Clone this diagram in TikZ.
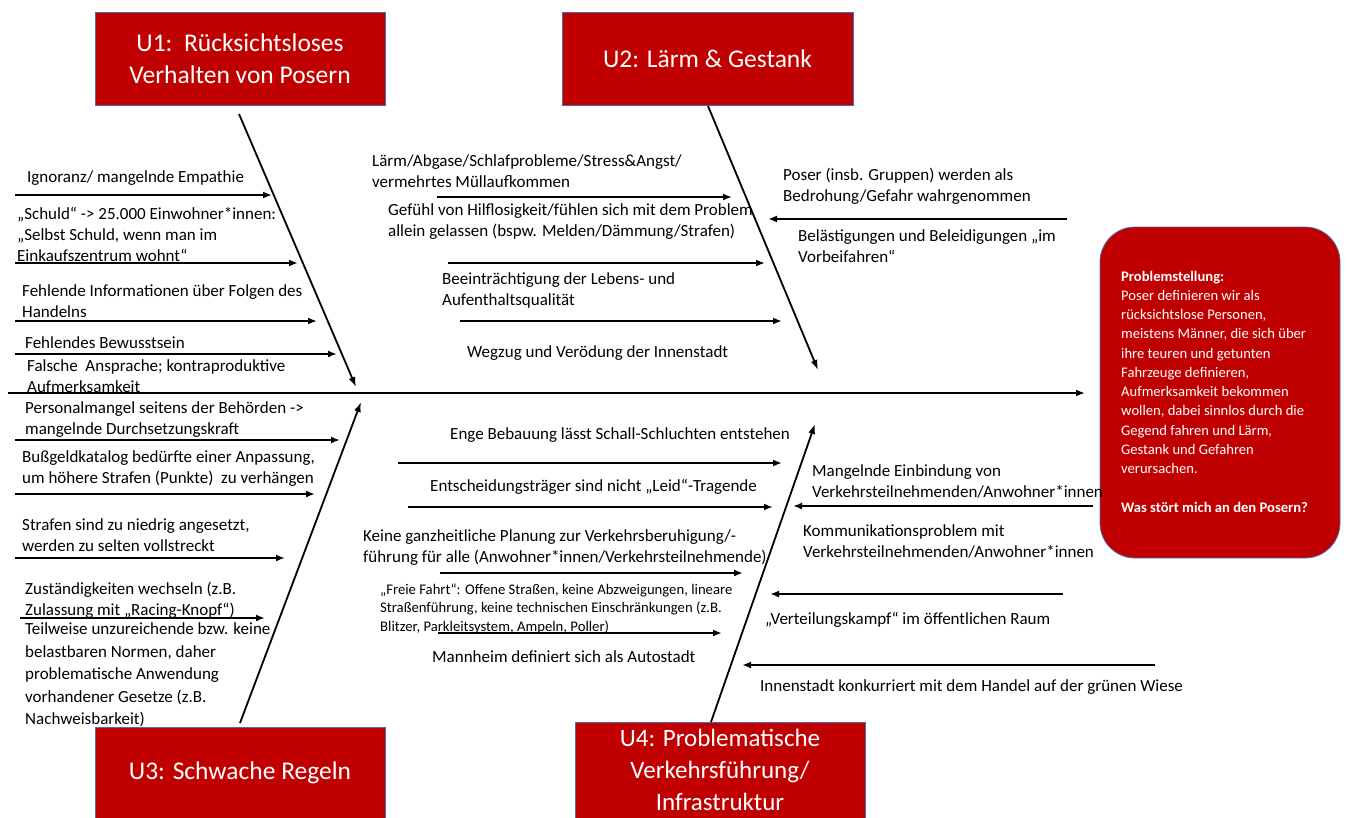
\documentclass[tikz,border=0pt]{standalone}
\usepackage{fontspec}
\setmainfont{Carlito}
\usetikzlibrary{arrows.meta}
\definecolor{boxred}{HTML}{C00000}
\definecolor{boxedge}{HTML}{4A6FA5}
\tikzset{
  arr/.style={line width=2pt,-{Latex[length=9pt,width=7pt]}},
  bone/.style={line width=1.8pt,-{Latex[length=10pt,width=7pt]}},
  txt/.style={anchor=west,align=left,inner sep=0pt,font=\fontsize{17}{21}\selectfont},
  smalltxt/.style={txt,font=\fontsize{14.7}{18.5}\selectfont},
  cause/.style={fill=boxred,draw=boxedge,line width=0.8pt,text=white,align=center,inner sep=0pt,font=\fontsize{25.5}{32}\selectfont},
  probbox/.style={fill=boxred,draw=boxedge,line width=0.8pt,rounded corners=35pt},
}
\newcommand\harrow[4]{\coordinate (#1a) at (#2,#4); \coordinate (#1b) at (#3,#4); \draw[arr] (#1a) -- (#1b);}
\begin{document}
\begin{tikzpicture}[x=1pt,y=-1pt]
\useasboundingbox (0,0) rectangle (1347,817);
% cause boxes
\node[cause,minimum width=290pt,minimum height=93pt] (u1) at (240,58.5) {U1:\ \ Rücksichtsloses\\Verhalten von Posern};
\node[cause,minimum width=291pt,minimum height=93pt] (u2) at (707.5,58.5) {U2: Lärm \& Gestank};
\node[cause,minimum width=290pt,minimum height=100pt] (u3) at (240,777) {};
\node[text=white,font=\fontsize{25.5}{32}\selectfont,inner sep=0pt] (u3t) at (240,773) {U3: Schwache Regeln};
\node[cause,minimum width=290pt,minimum height=105pt] (u4) at (720,774.5) {};
\node[text=white,align=center,font=\fontsize{25}{32}\selectfont,inner sep=0pt] (u4t) at (720,769.5) {U4: Problematische\\Verkehrsführung/\\Infrastruktur};
% problem box
\draw[probbox] (1100,227) rectangle (1340,558);
\node[anchor=west,align=left,inner sep=0pt,text=white,font=\fontsize{14.6}{19.25}\selectfont] (prob) at (1121,391.5)
{\textbf{Problemstellung:}\\Poser definieren wir als\\rücksichtslose Personen,\\meistens Männer, die sich über\\ihre teuren und getunten\\Fahrzeuge definieren,\\Aufmerksamkeit bekommen\\wollen, dabei sinnlos durch die\\Gegend fahren und Lärm,\\Gestank und Gefahren\\verursachen.\\[19.25pt]\textbf{Was stört mich an den Posern?}};
% spine
\coordinate (spineA) at (8,393);
\coordinate (spineB) at (1085,393);
\draw[arr] (spineA) -- (spineB);
% bones
\coordinate (b1a) at (239,114); \coordinate (b1b) at (356,387);
\coordinate (b2a) at (708,106); \coordinate (b2b) at (818,370);
\coordinate (b3a) at (240,723); \coordinate (b3b) at (361,402);
\coordinate (b4a) at (711,722); \coordinate (b4b) at (815,424);
\draw[bone] (b1a) -- (b1b);
\draw[bone] (b2a) -- (b2b);
\draw[bone] (b3a) -- (b3b);
\draw[bone] (b4a) -- (b4b);
% U1 causes
\node[txt] (t11) at (27,178) {Ignoranz/ mangelnde Empathie};
\harrow{a11}{15}{272}{195}
\node[txt] (t12) at (17,234) {„Schuld“ -> 25.000 Einwohner*innen:\\„Selbst Schuld, wenn man im\\Einkaufszentrum wohnt“};
\harrow{a12}{15}{298}{263}
\node[txt] (t13) at (22,301) {Fehlende Informationen über Folgen des\\Handelns};
\harrow{a13}{15}{317}{321}
\node[txt] (t14) at (25,343) {Fehlendes Bewusstsein};
\harrow{a14}{15}{337}{354}
\node[txt] (t15) at (27,376) {Falsche\ \ Ansprache; kontraproduktive\\Aufmerksamkeit};
% U3 causes
\node[txt] (t31) at (25,419.5) {Personalmangel seitens der Behörden ->\\mangelnde Durchsetzungskraft};
\harrow{a31}{15}{340}{440}
\node[txt] (t32) at (22,468.5) {Bußgeldkatalog bedürfte einer Anpassung,\\um höhere Strafen (Punkte)\ \ zu verhängen};
\harrow{a32}{15}{315}{494}
\node[txt] (t33) at (22,535) {Strafen sind zu niedrig angesetzt,\\werden zu selten vollstreckt};
\harrow{a33}{15}{285}{558}
\node[txt] (t34) at (25,600) {Zuständigkeiten wechseln (z.B.\\Zulassung mit „Racing-Knopf“)};
\harrow{a34}{20}{265}{618}
\node[txt,font=\fontsize{17}{22.5}\selectfont] (t35) at (25,675) {Teilweise unzureichende bzw. keine\\belastbaren Normen, daher\\problematische Anwendung\\vorhandener Gesetze (z.B.\\Nachweisbarkeit)};
% U2 causes (left)
\node[txt] (t21) at (372,171) {Lärm/Abgase/Schlafprobleme/Stress\&Angst/\\vermehrtes Müllaufkommen};
\harrow{a21}{437}{732}{197}
\node[txt] (t22) at (388,221.5) {Gefühl von Hilflosigkeit/fühlen sich mit dem Problem\\allein gelassen (bspw. Melden/Dämmung/Strafen)};
\harrow{a22}{448}{765}{263}
\node[txt] (t23) at (442,290) {Beeinträchtigung der Lebens- und\\Aufenthaltsqualität};
\harrow{a23}{460}{782}{321}
\node[txt] (t24) at (467,353) {Wegzug und Verödung der Innenstadt};
% U2 causes (right)
\node[txt] (t25) at (783,186) {Poser (insb. Gruppen) werden als\\Bedrohung/Gefahr wahrgenommen};
\harrow{a25}{1067}{768}{219}
\node[txt] (t26) at (798,246) {Belästigungen und Beleidigungen „im\\Vorbeifahren“};
% U4 causes (left)
\node[txt] (t41) at (450,435) {Enge Bebauung lässt Schall-Schluchten entstehen};
\harrow{a41}{398}{782}{463}
\node[txt] (t42) at (430,487) {Entscheidungsträger sind nicht „Leid“-Tragende};
\harrow{a42}{408}{773}{507}
\node[txt] (t43) at (363,548) {Keine ganzheitliche Planung zur Verkehrsberuhigung/-\\führung für alle (Anwohner*innen/Verkehrsteilnehmende)};
\harrow{a43}{440}{743}{573}
\node[smalltxt] (t44) at (380,608.5) {„Freie Fahrt“: Offene Straßen, keine Abzweigungen, lineare\\Straßenführung, keine technischen Einschränkungen (z.B.\\Blitzer, Parkleitsystem, Ampeln, Poller)};
\harrow{a44}{438}{722}{633}
\node[txt] (t45) at (432,657) {Mannheim definiert sich als Autostadt};
% U4 causes (right)
\node[txt] (t46) at (812,481) {Mangelnde Einbindung von\\Verkehrsteilnehmenden/Anwohner*innen};
\harrow{a46}{1093}{793}{506}
\node[txt] (t47) at (803,541.5) {Kommunikationsproblem mit\\Verkehrsteilnehmenden/Anwohner*innen};
\harrow{a47}{1063}{770}{594}
\node[txt] (t48) at (765,620) {„Verteilungskampf“ im öffentlichen Raum};
\harrow{a48}{1155}{742}{665}
\node[txt] (t49) at (760,687) {Innenstadt konkurriert mit dem Handel auf der grünen Wiese};
\end{tikzpicture}
\end{document}
